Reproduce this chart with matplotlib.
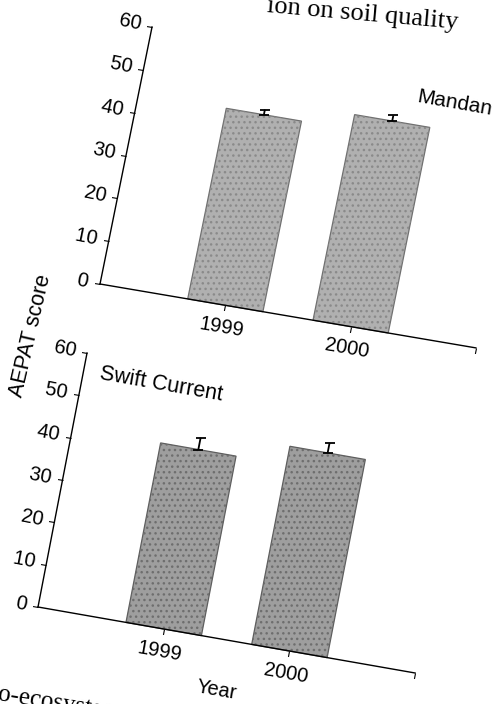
import matplotlib
matplotlib.use('Agg')
import matplotlib.pyplot as plt
from matplotlib.transforms import Affine2D
import mpl_toolkits.axisartist.floating_axes as floating_axes
from mpl_toolkits.axisartist.grid_finder import FixedLocator, DictFormatter

plt.rcParams['font.family'] = ['Liberation Sans', 'DejaVu Sans']
plt.rcParams['hatch.linewidth'] = 1.0

# data
years = ['1999', '2000']
year_pos = [1, 2]
mandan_score = [44.5, 48.0]
mandan_err = [1.2, 1.3]
swift_score = [42.4, 46.8]
swift_err = [2.8, 2.4]
y_ticks = [0, 10, 20, 30, 40, 50, 60]

W, H = 497, 704
fig = plt.figure(figsize=(W / 100, H / 100), dpi=100)


def panel(origin, ex, ey):
    # the scanned page is skewed, so map (year slot, score) onto a tilted frame
    tr = Affine2D.from_values(ex[0], ex[1], ey[0], ey[1], origin[0], origin[1])
    gh = floating_axes.GridHelperCurveLinear(
        tr, extremes=(0, 3, 0, 60),
        grid_locator1=FixedLocator(year_pos + [3]),
        tick_formatter1=DictFormatter(dict(zip(year_pos, years))),
        grid_locator2=FixedLocator(y_ticks))
    ax = floating_axes.FloatingAxes(fig, [0, 0, 1, 1], grid_helper=gh)
    fig.add_axes(ax)
    ax.set_xlim(0, W)
    ax.set_ylim(0, H)
    ax.axis["top"].set_visible(False)
    ax.axis["right"].set_visible(False)
    for side in ["left", "bottom"]:
        ax.axis[side].line.set_linewidth(1.0)
        ax.axis[side].major_ticks.set_tick_out(True)
        ax.axis[side].major_ticks.set_ticksize(4)
        ax.axis[side].major_ticklabels.set_fontsize(14.5)
    ax.axis["left"].major_ticklabels.set_pad(4)
    ax.axis["bottom"].major_ticklabels.set_pad(6)

    aux = ax.get_aux_axes(tr)
    return ax, aux


def draw_bars(aux, scores, errs, fill, speckle, edge):
    aux.bar(year_pos, scores, width=0.6, color=fill, edgecolor=edge, linewidth=0.9)
    # grainy look of the printed grey fill
    aux.bar(year_pos, scores, width=0.6, facecolor='none', edgecolor=speckle,
            hatch='...', linewidth=0)
    aux.errorbar(year_pos, scores, yerr=[[0, 0], errs], fmt='none',
                 ecolor='black', elinewidth=1.3, capsize=3.5, capthick=1.3)


top_ax, top = panel((100, 420), (125.3, -21.3), (0.867, 4.283))
draw_bars(top, mandan_score, mandan_err, '#b0b0b0', '#8a8a8a', '#707070')

bot_ax, bot = panel((38, 97), (125.7, -22.0), (0.817, 4.233))
draw_bars(bot, swift_score, swift_err, '#9e9e9e', '#6e6e6e', '#5e5e5e')


def px(x, y):
    return x / W, 1 - y / H


fig.text(*px(455, 103), 'Mandan', fontsize=15, rotation=-10, ha='center', va='center')
fig.text(*px(161, 384), 'Swift Current', fontsize=15.5, rotation=-10, ha='center', va='center')
fig.text(*px(217, 690), 'Year', fontsize=14.5, rotation=-10, ha='center', va='center')
fig.text(*px(31, 336), 'AEPAT score', fontsize=15.5, rotation=77, ha='center', va='center')
fig.text(*px(458, 29), 'ion on soil quality', fontsize=19, family='Liberation Serif',
         rotation=-5, ha='right', va='baseline', rotation_mode='anchor')
fig.text(*px(-40, 694), 'Agro-ecosystem', fontsize=18, family='Liberation Serif',
         rotation=-9, ha='left', va='baseline', rotation_mode='anchor')

fig.savefig('out.png', dpi=100)
